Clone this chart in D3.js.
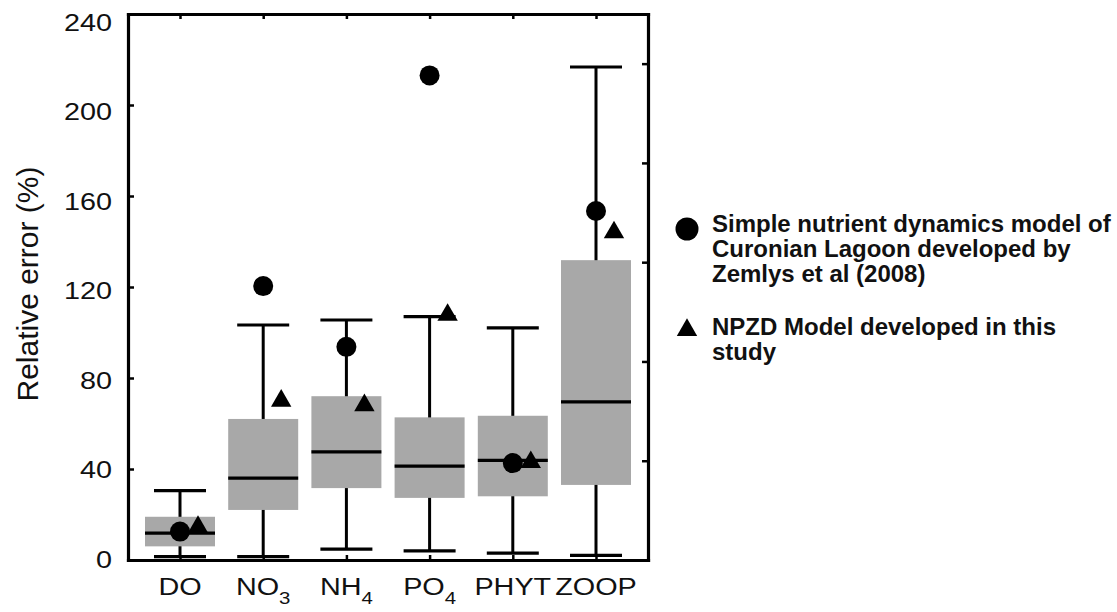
<!DOCTYPE html>
<html>
<head>
<meta charset="utf-8">
<script src="https://cdn.jsdelivr.net/npm/d3@7"></script>
<style>
  body { margin: 0; background: #ffffff; }
  text { font-family: "Liberation Sans", Arial, sans-serif; fill: #111; }
</style>
</head>
<body>
<svg id="chart" width="1117" height="612"></svg>
<script>
/*------------------------
  -------- DATA ----------
  ------------------------*/
var categories = ["DO", "NO3", "NH4", "PO4", "PHYT", "ZOOP"];
var label_main = ["DO", "NO", "NH", "PO", "PHYT", "ZOOP"];
var label_sub  = ["", "3", "4", "4", "", ""];

var whisker_low  = [1.5, 1.5, 4.8, 4.0, 3.0, 2.0];
var q1           = [6.0, 22.0, 31.6, 27.3, 28.0, 33.0];
var median       = [11.8, 36.0, 47.5, 41.3, 43.8, 69.5];
var q3           = [19.0, 62.0, 72.0, 62.7, 63.4, 131.8];
var whisker_high = [30.5, 103.3, 105.5, 107.0, 102.0, 216.7];

var simple_model = [12.5, 120.4, 93.7, 213.0, 42.6, 153.4];
var npzd_model   = [14.5, 70.0, 68.0, 107.7, 43.0, 144.0];

var y_ticks = [0, 40, 80, 120, 160, 200, 240];

var legend_simple = ["Simple nutrient dynamics model of",
                     "Curonian Lagoon developed by",
                     "Zemlys et al (2008)"];
var legend_npzd = ["NPZD Model developed in this", "study"];

/*------------------------
  ------- SCALES ---------
  ------------------------*/
var svg = d3.select("#chart");

var x = d3.scalePoint().domain(categories).range([128, 648]).padding(0.625);
var y = d3.scaleLinear().domain([0, 240]).range([560, 14]);
var y_lab = d3.scaleLinear().domain([0, 240]).range([559, 22]);
var y_right = d3.scaleLinear().domain([0, 11]).range([560, 14]);

var box_w = 70, cap_w = 52;

var rows = categories.map(function(c, i) {
    return {
        cat: c, lo: whisker_low[i], q1: q1[i], med: median[i],
        q3: q3[i], hi: whisker_high[i],
        simple: simple_model[i], npzd: npzd_model[i],
        main: label_main[i], sub: label_sub[i]
    };
});

/*------------------------
  -------- BOXES ---------
  ------------------------*/
var g = svg.append("g").attr("class", "boxes");

var b = g.selectAll(".box").data(rows).enter().append("g").attr("class", "box");

b.append("line")
    .attr("x1", function(d) { return x(d.cat); })
    .attr("x2", function(d) { return x(d.cat); })
    .attr("y1", function(d) { return y(d.lo); })
    .attr("y2", function(d) { return y(d.hi); })
    .attr("stroke", "#000").attr("stroke-width", 3);

b.selectAll(".cap")
    .data(function(d) { return [{c: d.cat, v: d.lo}, {c: d.cat, v: d.hi}]; })
    .enter().append("line")
    .attr("x1", function(d) { return x(d.c) - cap_w / 2; })
    .attr("x2", function(d) { return x(d.c) + cap_w / 2; })
    .attr("y1", function(d) { return y(d.v); })
    .attr("y2", function(d) { return y(d.v); })
    .attr("stroke", "#000").attr("stroke-width", 3.2);

b.append("rect")
    .attr("x", function(d) { return x(d.cat) - box_w / 2; })
    .attr("width", box_w)
    .attr("y", function(d) { return y(d.q3); })
    .attr("height", function(d) { return y(d.q1) - y(d.q3); })
    .attr("fill", "#a8a8a8");

b.append("line")
    .attr("x1", function(d) { return x(d.cat) - box_w / 2; })
    .attr("x2", function(d) { return x(d.cat) + box_w / 2; })
    .attr("y1", function(d) { return y(d.med); })
    .attr("y2", function(d) { return y(d.med); })
    .attr("stroke", "#000").attr("stroke-width", 3.2);

/*------------------------
  ------- MARKERS --------
  ------------------------*/
var tri = d3.symbol().type(d3.symbolTriangle).size(180);

b.append("circle")
    .attr("cx", function(d) { return x(d.cat); })
    .attr("cy", function(d) { return y(d.simple); })
    .attr("r", 10)
    .attr("fill", "#000");

b.append("path")
    .attr("d", tri)
    .attr("transform", function(d) {
        return "translate(" + (x(d.cat) + 18) + "," + y(d.npzd) + ")";
    })
    .attr("fill", "#000");

/*------------------------
  -------- AXES ----------
  ------------------------*/
function style_axis(a) {
    a.select(".domain").attr("stroke", "#000").attr("stroke-width", 3.2)
        .attr("stroke-linecap", "square");
    a.selectAll(".tick line").attr("stroke", "#000").attr("stroke-width", 2.5);
    a.selectAll(".tick text").remove();
}

svg.append("g").attr("transform", "translate(128,0)")
    .call(d3.axisLeft(y).tickValues(y_ticks).tickSizeInner(-6).tickSizeOuter(0))
    .call(style_axis);

svg.append("g").attr("transform", "translate(648,0)")
    .call(d3.axisRight(y_right).tickValues([2, 4, 6, 8, 10]).tickSizeInner(-6).tickSizeOuter(0))
    .call(style_axis);

svg.append("g").attr("transform", "translate(0,560)")
    .call(d3.axisBottom(x).tickSizeInner(-5).tickSizeOuter(0))
    .call(style_axis);

svg.append("g").attr("transform", "translate(0,14)")
    .call(d3.axisTop(x).tickSizeInner(-5).tickSizeOuter(0))
    .call(style_axis);

// y tick labels
svg.append("g").selectAll("text").data(y_ticks).enter().append("text")
    .attr("transform", function(d) { return "translate(112," + y_lab(d) + ") scale(1.2,1)"; })
    .attr("dy", "0.36em")
    .attr("text-anchor", "end")
    .attr("font-size", 24)
    .text(function(d) { return d; });

// x category labels
var xl = svg.append("g").selectAll("text").data(rows).enter().append("text")
    .attr("transform", function(d) { return "translate(" + x(d.cat) + ",595) scale(1.2,1)"; })
    .attr("text-anchor", "middle")
    .attr("font-size", 24);
xl.append("tspan").text(function(d) { return d.main; });
xl.append("tspan")
    .attr("font-size", 17)
    .attr("dy", 9)
    .text(function(d) { return d.sub; });

svg.append("text")
    .attr("transform", "translate(38,284) rotate(-90)")
    .attr("text-anchor", "middle")
    .attr("font-size", 30)
    .text("Relative error (%)");

/*------------------------
  ------- LEGEND ---------
  ------------------------*/
var lg = svg.append("g").attr("class", "legend");

lg.append("circle").attr("cx", 687).attr("cy", 229).attr("r", 11.5).attr("fill", "#000");
lg.append("path").attr("d", tri).attr("transform", "translate(687,330)").attr("fill", "#000");

lg.selectAll(".l1").data(legend_simple).enter().append("text")
    .attr("x", 712)
    .attr("y", function(d, i) { return 232 + i * 25; })
    .attr("font-size", 24).attr("font-weight", "bold")
    .text(function(d) { return d; });

lg.selectAll(".l2").data(legend_npzd).enter().append("text")
    .attr("x", 712)
    .attr("y", function(d, i) { return 335 + i * 25; })
    .attr("font-size", 24).attr("font-weight", "bold")
    .text(function(d) { return d; });
</script>
</body>
</html>
